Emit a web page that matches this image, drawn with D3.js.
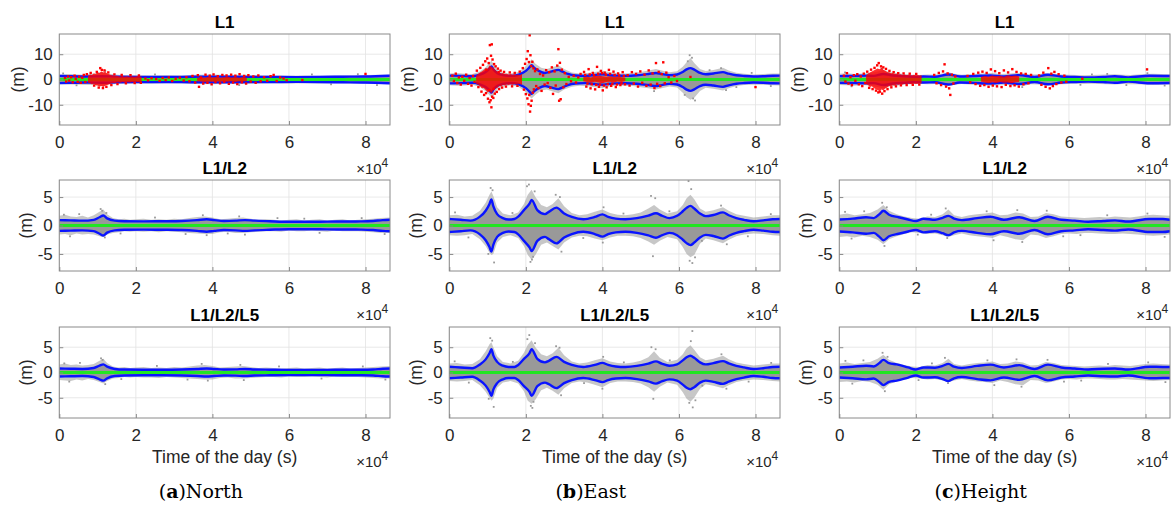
<!DOCTYPE html>
<html><head><meta charset="utf-8">
<script src="https://cdn.jsdelivr.net/npm/d3@7"></script>
<style>body{margin:0;background:#fff}svg{display:block}</style>
</head><body><svg id="chart" width="1174" height="505"></svg>
<script>
// ---------- categories / labels ----------
const rowTitles = ["L1", "L1/L2", "L1/L2/L5"];
const captions = [["a", "North"], ["b", "East"], ["c", "Height"]];
const xTicks = [0, 20000, 40000, 60000, 80000];
const xTickLabels = ["0", "2", "4", "6", "8"];
const xDomain = [0, 86400];
const yDomains = [[-18, 18], [-8, 8], [-9, 9]];
const yTicks = [[-10, 0, 10], [-5, 0, 5], [-5, 0, 5]];
const meanValue = 0;
const xLabel = "Time of the day (s)";
const yLabel = "(m)";

// ---------- North ----------
const envNorthL1 = [[0,1.45],[3000,1.3],[7000,1.2],[11000,1.3],[15000,1.15],[20000,1.05],[26000,1.0],[32000,1.05],[38000,1.15],[44000,1.1],[50000,1.05],[56000,1.0],[62000,0.95],[68000,1.0],[74000,1.1],[80000,1.2],[86400,1.5]];
const spreadNorthL1 = [[0,2.0,-1.9],[3000,2.2,-2.0],[6000,1.9,-2.1],[9000,2.4,-2.2],[11000,3.0,-2.6],[13000,2.3,-2.0],[16000,1.8,-1.7],[20000,1.7,-1.6],[24000,1.6,-1.7],[28000,1.7,-1.5],[32000,1.6,-1.6],[36000,1.9,-1.8],[40000,2.0,-1.9],[44000,1.8,-1.7],[48000,1.9,-1.8],[52000,1.7,-1.6],[56000,1.6,-1.5],[60000,1.5,-1.6],[64000,1.6,-1.5],[68000,1.5,-1.6],[72000,1.6,-1.5],[76000,1.7,-1.6],[80000,1.8,-1.7],[84000,1.9,-1.8],[86400,2.0,-1.9]];
const grayNorthL1 = [[1000,2.4],[4500,-2.3],[12000,3.4],[25000,2.0],[47000,-2.2],[66000,2.0],[71000,-1.9],[78000,2.1],[83000,-2.2]];
const redAreaNorth = [[7500,1.4,-1.2],[8000,2.0,-1.5],[8500,1.8,-1.9],[9000,2.4,-1.7],[9500,2.2,-2.3],[10000,2.9,-2.4],[10500,2.6,-2.8],[11000,3.2,-2.6],[11500,2.8,-3.0],[12000,3.1,-2.5],[12500,2.4,-2.2],[13000,2.1,-1.9],[13500,1.8,-1.6],[14000,1.6,-1.4],[14500,1.4,-1.5],[15000,1.5,-1.2],[15500,1.3,-1.1],[16000,1.2,-1.3],[16500,1.4,-1.0],[17000,1.1,-1.2],[17500,1.3,-1.0],[18000,1.2,-1.1],[18500,1.0,-1.2],[19000,1.3,-1.0],[19500,1.1,-1.1],[20000,1.2,-0.9],[20500,1.4,-1.1],[21000,1.1,-1.0],[21500,1.2,-1.1],null,
  [36000,0.6,-0.7],[37000,0.9,-0.8],[38000,0.7,-1.0],[39000,1.1,-0.8],[40000,0.8,-0.9],[41000,1.0,-0.7],[42000,0.7,-0.9],[43000,0.9,-0.8],[44000,1.1,-0.9],[45000,0.8,-0.7],[46000,1.0,-1.0],[47000,0.7,-0.7],[48000,1.0,-0.8],[49000,0.7,-0.6]];
const redPtsNorth = [[1500,0.6],[1800,-0.8],[2300,1.2],[2600,-0.4],[3100,0.9],[3500,-1.1],[4000,1.5],[4300,0.3],[4800,-0.9],[5200,1.1],[5600,-1.3],[6000,0.7],[6400,1.8],[6800,-1.0],[7200,2.1],
  [8200,2.6],[9100,-2.4],[9800,3.0],[10300,-3.2],[10700,4.5],[11100,3.8],[11400,-3.4],[11800,3.6],[12300,-2.9],[12800,2.8],[13600,-2.2],[14400,2.0],[15200,-1.8],[16300,1.8],[17400,-1.5],[18600,1.7],[19700,-1.4],[20800,1.6],[21300,-1.3],
  [22500,0.4],[23200,-0.3],[24100,0.5],[25300,0.2],[26200,-0.5],[27000,0.6],[27800,-0.2],[28600,0.8],[29500,-0.6],[30400,0.3],[31500,0.7],[32500,-0.4],
  [33200,0.9],[34000,-0.7],[34800,1.4],[35500,-1.2],[36200,1.7],[36500,-2.9],[37000,0.8],[37600,-1.6],[38200,1.9],[38700,-1.3],[39300,1.5],[39800,-1.9],[40300,2.0],[40800,-1.0],[41400,1.3],[42000,-1.5],[42600,1.8],[43100,-0.9],[43700,1.6],[44300,-1.7],[44900,1.9],[45400,-1.2],[46000,1.5],[46500,-1.8],[47100,2.1],[47700,-1.1],[48300,1.4],[48800,-1.6],[49400,1.7],[50000,-0.8],[50700,1.2],[51300,-1.3],[52000,1.6],[52600,-0.7],
  [53500,0.9],[54300,-0.5],[55200,1.3],[56000,1.8],[56800,-0.6],[57700,0.8],[58600,0.4],[59400,-0.3],[63500,-0.2],[80000,2.2]];

const envNorthL12 = [[0,0.95],[3000,0.9],[6000,0.85],[9000,1.0],[10500,1.45],[11500,1.75],[12500,1.25],[14500,0.85],[17000,0.75],[22000,0.72],[27000,0.75],[32000,0.8],[36000,0.95],[38500,1.1],[40500,0.95],[43000,0.8],[46000,0.85],[48500,0.95],[51000,0.85],[55000,0.75],[60000,0.65],[65000,0.65],[70000,0.68],[75000,0.7],[79000,0.72],[82000,0.8],[84500,0.95],[86400,1.0]];
const spreadNorthL12 = [[0,1.7,-1.6],[1500,1.9,-1.5],[3000,1.6,-1.7],[4500,1.5,-1.4],[6000,1.7,-1.6],[7500,1.4,-1.5],[9000,1.8,-1.6],[10500,2.4,-1.9],[11500,2.8,-2.0],[12500,2.0,-1.6],[14000,1.3,-1.3],[15500,1.1,-1.2],[17000,1.2,-1.0],[18500,1.0,-1.1],[20000,1.1,-1.0],[22000,1.2,-1.1],[24000,1.0,-1.0],[26000,1.1,-1.2],[28000,1.0,-1.0],[30000,1.2,-1.1],[32000,1.1,-1.2],[34000,1.3,-1.3],[36000,1.5,-1.4],[38000,1.6,-1.5],[40000,1.4,-1.5],[42000,1.1,-1.2],[44000,1.2,-1.1],[46000,1.3,-1.3],[48000,1.4,-1.3],[50000,1.2,-1.2],[52000,1.0,-1.1],[54000,1.1,-1.0],[56000,1.0,-1.0],[58000,0.9,-1.1],[60000,1.0,-0.9],[62000,1.1,-1.0],[64000,0.9,-1.0],[66000,1.0,-0.9],[68000,1.1,-1.0],[70000,0.9,-1.1],[72000,1.0,-0.9],[74000,1.1,-1.0],[76000,0.9,-1.0],[78000,1.0,-1.0],[80000,1.1,-1.1],[82000,1.2,-1.2],[84000,1.3,-1.3],[86400,1.4,-1.3]];
const grayNorthL12 = [[1200,1.9],[2800,-1.9],[5200,2.0],[10800,2.9],[11200,2.6],[11900,-2.1],[12300,2.2],[16000,-1.4],[25000,1.4],[33000,-1.5],[37500,1.8],[38500,-1.7],[44000,-1.4],[47000,1.6],[48500,-1.6],[57000,1.3],[64000,1.2],[68000,-1.3],[79000,1.3],[85000,-1.5]];

const envNorthL125 = [[0,0.8],[3000,0.75],[6000,0.7],[9000,0.9],[10500,1.35],[11500,1.6],[12500,1.15],[14500,0.7],[17000,0.58],[22000,0.55],[27000,0.55],[32000,0.6],[36000,0.7],[38500,0.8],[40500,0.7],[43000,0.6],[46000,0.62],[48500,0.7],[51000,0.6],[55000,0.55],[60000,0.5],[65000,0.5],[70000,0.52],[75000,0.55],[79000,0.55],[82000,0.6],[84500,0.75],[86400,0.8]];
const spreadNorthL125 = [[0,1.6,-1.5],[1500,1.8,-1.6],[3000,1.5,-1.7],[4500,1.6,-1.4],[6000,1.4,-1.6],[7500,1.5,-1.3],[9000,1.7,-1.5],[10500,2.3,-1.9],[11500,2.7,-2.2],[12500,1.9,-1.7],[14000,1.2,-1.2],[15500,1.0,-1.1],[17000,1.1,-0.9],[18500,0.9,-1.0],[20000,1.0,-0.9],[22000,1.1,-1.0],[24000,0.9,-1.0],[26000,1.0,-1.1],[28000,0.9,-0.9],[30000,1.1,-1.0],[32000,1.0,-1.1],[34000,1.2,-1.2],[36000,1.4,-1.3],[38000,1.5,-1.4],[40000,1.3,-1.4],[42000,1.0,-1.1],[44000,1.1,-1.0],[46000,1.2,-1.2],[48000,1.3,-1.2],[50000,1.1,-1.1],[52000,0.9,-1.0],[54000,1.0,-0.9],[56000,0.9,-0.9],[58000,0.8,-1.0],[60000,0.9,-0.8],[62000,1.0,-0.9],[64000,0.8,-0.9],[66000,0.9,-0.8],[68000,1.0,-0.9],[70000,0.8,-1.0],[72000,0.9,-0.8],[74000,1.0,-0.9],[76000,0.8,-0.9],[78000,0.9,-0.9],[80000,1.0,-1.0],[82000,1.1,-1.1],[84000,1.2,-1.2],[86400,1.3,-1.2]];
const grayNorthL125 = [[1300,1.8],[2600,-1.8],[5400,1.9],[10900,2.8],[11300,2.5],[12000,-2.3],[16200,-1.3],[25500,1.3],[33500,-1.4],[37200,1.7],[38800,-1.6],[47300,1.5],[48200,-1.5],[57400,1.2],[68500,-1.2],[79300,1.2],[85200,-1.4]];

// ---------- East ----------
const envEastL1 = [[0,1.55],[3000,1.45],[6000,1.3],[8000,1.9],[9500,3.0],[10500,4.3],[11000,5.2],[11500,4.0],[12500,2.6],[14000,1.75],[15500,1.45],[17000,1.5],[18500,2.1],[20000,3.4],[21000,4.9],[21500,5.7],[22200,4.6],[23500,3.3],[25000,2.6],[26500,3.1],[28500,3.8],[29500,3.2],[31000,2.2],[33000,1.6],[35500,1.45],[38000,1.8],[40000,2.1],[41500,1.8],[43500,1.55],[46000,1.5],[49000,1.7],[52000,2.2],[54000,2.6],[55500,2.2],[57500,1.75],[59500,2.0],[61000,3.0],[62000,4.0],[63000,4.5],[64000,3.9],[65500,2.6],[67000,2.1],[69000,2.4],[71500,2.9],[73000,2.3],[75000,1.7],[77000,1.4],[79500,1.2],[82000,1.3],[84500,1.5],[86400,1.55]];
const spreadEastL1 = [[0,2.4,-2.3],[2000,2.6,-2.5],[4000,2.3,-2.4],[6000,2.2,-2.1],[8000,3.2,-3.0],[9500,4.8,-4.6],[10500,6.5,-6.2],[11000,7.5,-7.2],[11500,6.2,-6.5],[12500,4.0,-3.8],[14000,2.7,-2.8],[16000,2.4,-2.3],[18000,3.0,-2.9],[19500,4.5,-4.4],[21000,7.0,-6.8],[21500,8.0,-7.5],[22500,6.2,-6.0],[24000,4.6,-4.4],[25500,4.2,-4.0],[27000,4.8,-4.7],[28500,5.6,-5.4],[30000,4.2,-4.0],[32000,2.8,-2.9],[34000,2.4,-2.5],[36000,2.6,-2.7],[38000,3.0,-3.1],[40000,3.5,-3.4],[42000,2.9,-2.8],[44000,2.5,-2.4],[46000,2.4,-2.5],[48000,2.7,-2.6],[50000,3.0,-3.1],[52000,3.6,-3.5],[54000,4.2,-4.0],[55500,3.6,-3.5],[57500,2.9,-2.8],[59500,3.3,-3.2],[61000,5.0,-5.2],[62000,6.8,-7.0],[63000,8.5,-8.0],[64000,6.5,-7.2],[65500,4.2,-4.5],[67000,3.4,-3.3],[69000,3.8,-3.7],[71500,4.6,-4.4],[73000,3.6,-3.5],[75000,2.7,-2.6],[77000,2.3,-2.2],[79500,2.0,-2.1],[82000,2.2,-2.1],[84500,2.4,-2.3],[86400,2.4,-2.4]];
const grayEastL1 = [[62800,9.6],[63400,8.6],[64200,-8.3],[63700,-7.5],[62300,7.2],[61500,-6.1],[71000,4.5],[72300,-4.2],[53500,-4.6],[79000,2.6],[84000,-2.6],[68000,3.7],[75000,-3.0]];
const redAreaEast = [[7000,1.5,-1.8],[7500,2.2,-2.0],[8000,2.8,-2.6],[8500,3.2,-3.5],[9000,3.8,-3.4],[9500,4.5,-4.2],[10000,4.2,-5.0],[10500,5.5,-4.6],[11000,5.0,-5.5],[11500,4.6,-4.4],[12000,3.8,-3.6],[12500,3.2,-3.4],[13000,2.8,-2.6],[13500,2.4,-2.7],[14000,2.6,-2.2],[14500,2.2,-2.3],[15000,2.3,-2.0],[15500,2.0,-2.2],[16000,2.2,-1.9],[16500,1.9,-2.1],[17000,2.1,-1.8],[17500,1.8,-2.0],[18000,2.0,-1.7],[18500,1.7,-1.9],[19000,2.3,-2.1],null,
  [35000,0.9,-0.7],[36000,1.2,-1.0],[37000,0.8,-1.3],[38000,1.4,-0.9],[39000,1.6,-1.2],[40000,1.3,-1.5],[41000,1.1,-1.0],[42000,1.3,-0.9],[43000,1.0,-1.2],[44000,1.2,-0.8],[45000,0.9,-1.0],[46000,0.7,-0.6]];
const redPtsEast = [[800,1.5],[1200,-0.6],[1700,2.3],[2100,-1.4],[2500,0.8],[3000,-2.0],[3400,1.1],[3900,-0.5],[4400,1.9],[4900,-1.7],[5300,0.6],[5800,-2.4],[6200,1.4],[6600,-0.9],
  [7200,3.5],[7600,-3.0],[8100,4.6],[8400,-4.8],[8800,5.8],[9100,-6.1],[9400,7.2],[9600,-5.4],[9900,8.3],[10100,-7.6],[10300,6.5],[10500,-9.0],[10600,13.6],[10800,-8.2],[10900,9.4],[11000,-11.0],[11100,13.9],[11200,-6.8],[11300,7.9],[11500,-7.3],[11700,6.1],[11900,-5.6],[12100,5.2],[12400,-4.9],[12700,4.3],[13000,-3.8],[13400,3.5],[13800,-3.2],[14300,3.0],[14800,-2.8],[9700,3.9],[10400,-4.2],[11600,-3.7],[12900,2.9],
  [15800,2.8],[16400,-2.7],[17100,2.6],[17800,-2.5],[18400,3.1],
  [19200,4.5],[19500,-4.0],[19800,6.2],[20000,-5.8],[20200,8.1],[20400,-7.5],[20500,11.2],[20700,-9.8],[20800,6.9],[20900,-6.1],[21000,17.5],[21100,-12.7],[21200,9.6],[21300,-10.4],[21400,5.3],[21500,-8.4],[21700,7.0],[21800,-5.2],[22000,4.4],[22100,-3.9],
  [22400,3.3],[22700,-2.6],[23000,4.0],[23300,-3.4],[23700,2.2],[24100,-4.5],[24500,1.6],[24900,-2.0],[25300,3.7],[25700,-1.4],[26100,2.9],[26400,-3.3],[26800,4.8],[27100,-5.7],[27500,3.2],[27800,-2.4],[28200,5.5],[28500,12.0],[28700,-8.4],[28900,6.6],[29100,-7.8],[29400,3.9],[29800,-3.1],[30200,2.5],[30600,-1.8],
  [31200,1.0],[31800,-0.7],[32500,1.5],[33100,-1.2],[33700,0.8],[34300,2.2],
  [35200,3.0],[35500,1.8],[35800,-2.8],[36100,-1.6],[36400,4.1],[36700,2.0],[36900,-3.5],[37200,-1.9],[37500,2.6],[37800,1.7],[38100,-3.9],[38400,-2.1],[38600,5.0],[38900,2.3],[39100,-2.9],[39400,-2.0],[39600,3.4],[39900,2.5],[40100,-4.3],[40400,-2.4],[40600,2.7],[40900,1.9],[41100,-3.1],[41400,-1.8],[41700,3.8],[42000,2.2],[42300,-2.5],[42600,-1.7],[42900,3.1],[43200,1.8],[43500,-3.0],[43800,-2.0],[44100,2.4],[44400,1.6],[44700,-2.2],[45000,-1.5],[45300,2.9],[45600,1.4],[45900,-1.9],
  [46600,1.7],[47100,-2.4],[47700,2.9],[48200,-1.6],[48800,2.2],[49300,-2.8],[49900,3.2],[50400,-1.3],[51000,1.9],[51500,-2.5],[52100,3.6],[52600,-2.0],[53100,2.4],[53600,-3.4],[54000,6.5],[54300,-1.7],[54700,3.0],[55100,-2.6],[55500,2.1],[55900,6.8],[56300,-1.5],[56700,2.7],
  [57300,0.9],[58000,-1.2],[58800,1.4],[59500,-0.6],[63000,1.0],[80000,-3.0]];

const envEastL12 = [[0,1.15],[3000,1.0],[5500,0.85],[8000,1.55],[9500,2.6],[10500,3.8],[11000,4.6],[11500,3.4],[12500,2.0],[14000,1.3],[15500,1.05],[17000,1.15],[18000,1.55],[19500,2.7],[21000,3.9],[21500,4.5],[23000,2.7],[25000,2.0],[26000,2.4],[28000,3.15],[30000,2.1],[32000,1.5],[35000,1.1],[38000,1.5],[40000,1.95],[41500,1.5],[43500,1.2],[46000,1.1],[49000,1.3],[52000,1.75],[54000,2.15],[55500,1.75],[57500,1.3],[59500,1.7],[61000,2.5],[62000,3.1],[63000,3.45],[64000,3.0],[65500,2.1],[67000,1.65],[69000,1.85],[71500,2.3],[73000,1.8],[75000,1.3],[77000,1.0],[79500,0.75],[82000,0.9],[84500,1.1],[86400,1.15]];
const spreadEastL12 = [[0,1.8,-1.7],[2000,1.9,-1.8],[4000,1.6,-1.7],[6000,1.7,-1.5],[8000,2.6,-2.4],[9500,4.0,-3.6],[10500,5.4,-4.8],[11000,6.0,-5.2],[11500,5.2,-5.0],[12500,3.2,-3.0],[14000,2.1,-2.0],[16000,1.8,-1.7],[18000,2.3,-2.2],[19500,3.8,-3.6],[20500,5.4,-5.2],[21500,6.3,-6.0],[22500,5.0,-5.2],[24000,3.6,-3.4],[25500,3.2,-3.0],[27000,3.8,-3.6],[28500,4.8,-4.2],[30000,3.4,-3.0],[32000,2.2,-2.1],[34000,1.8,-1.8],[36000,2.0,-1.9],[38000,2.4,-2.3],[40000,2.8,-2.6],[42000,2.2,-2.1],[44000,1.9,-1.8],[46000,1.8,-1.8],[48000,2.0,-1.9],[50000,2.3,-2.2],[52000,3.0,-2.8],[53500,3.6,-3.4],[55000,2.8,-2.7],[57000,2.1,-2.0],[59500,2.5,-2.4],[61000,3.6,-3.8],[62000,4.8,-5.0],[63000,5.4,-5.6],[64000,4.6,-5.2],[65500,3.0,-3.2],[67000,2.4,-2.3],[69000,2.7,-2.6],[71500,3.2,-3.1],[73000,2.6,-2.5],[75000,2.0,-1.9],[77000,1.7,-1.6],[79500,1.4,-1.4],[82000,1.6,-1.5],[84500,1.8,-1.7],[86400,1.8,-1.8]];
const grayEastL12 = [[10800,6.6],[11300,6.2],[11700,-6.5],[10200,-5.0],[20300,6.9],[20800,7.2],[21200,-6.4],[21600,-6.0],[21900,-5.5],[22300,6.0],[27800,5.4],[28900,5.0],[29300,-4.6],[40300,3.2],[40100,-3.0],[52700,5.2],[53200,-5.4],[53800,4.8],[62500,7.8],[63200,6.4],[63500,-6.6],[62800,-6.2],[64200,-5.6],[71000,3.5],[72500,-3.3],[1500,2.3],[5000,-2.1],[16500,2.2],[35000,-2.2],[45500,2.1],[78000,-1.9],[84000,2.0],[57500,2.5],[66000,-2.7]];

const envEastL125 = [[0,1.15],[3000,1.0],[6000,0.85],[8000,1.6],[9500,2.6],[10500,3.8],[11000,4.6],[11500,3.4],[12500,2.1],[14000,1.35],[15500,1.1],[17000,1.1],[18000,1.5],[19500,2.7],[21000,3.9],[21500,4.6],[23000,2.7],[25000,2.0],[26000,2.3],[28000,3.1],[30000,2.1],[32000,1.5],[35000,1.1],[38000,1.5],[40000,1.9],[41500,1.5],[43500,1.2],[46000,1.1],[49000,1.3],[52000,1.75],[54000,2.2],[55500,1.75],[57500,1.35],[59500,1.6],[61000,2.4],[62000,3.0],[63000,3.3],[64000,2.9],[65500,2.0],[67000,1.6],[69000,1.85],[71500,2.25],[73000,1.8],[75000,1.3],[77000,1.0],[79500,0.7],[82000,0.85],[84500,1.1],[86400,1.15]];
const spreadEastL125 = [[0,1.8,-1.7],[2000,1.9,-1.8],[4000,1.6,-1.7],[6000,1.7,-1.5],[8000,2.6,-2.5],[9500,4.2,-3.8],[10500,5.6,-5.0],[11000,6.0,-5.6],[11500,5.0,-5.2],[12500,3.2,-3.0],[14000,2.1,-2.0],[16000,1.8,-1.7],[18000,2.3,-2.2],[19500,3.9,-3.7],[20500,5.5,-5.6],[21500,6.4,-6.2],[22500,5.0,-5.4],[24000,3.6,-3.5],[25500,3.2,-3.0],[27000,3.8,-3.6],[28500,4.9,-4.4],[30000,3.4,-3.1],[32000,2.2,-2.1],[34000,1.8,-1.8],[36000,2.0,-2.0],[38000,2.4,-2.4],[40000,2.8,-2.9],[42000,2.2,-2.1],[44000,1.9,-1.8],[46000,1.8,-1.8],[48000,2.0,-1.9],[50000,2.3,-2.2],[52000,3.0,-2.9],[53500,4.2,-3.8],[55000,2.9,-2.8],[57000,2.1,-2.0],[59500,2.5,-2.4],[61000,3.6,-3.9],[62000,4.8,-5.2],[63000,5.4,-5.8],[64000,4.5,-5.0],[65500,3.0,-3.2],[67000,2.4,-2.3],[69000,2.7,-2.6],[71500,3.3,-3.1],[73000,2.6,-2.5],[75000,2.0,-1.9],[77000,1.7,-1.6],[79500,1.4,-1.4],[82000,1.6,-1.5],[84500,1.8,-1.7],[86400,1.8,-1.8]];
const grayEastL125 = [[10700,6.8],[11200,6.3],[11600,-6.8],[10300,-5.2],[20400,6.6],[20900,7.4],[21300,-6.6],[21700,-7.0],[22000,-5.8],[22400,5.8],[27900,5.2],[28800,4.9],[29200,-4.5],[40200,3.1],[40000,-3.2],[52800,5.0],[53300,-5.2],[53900,4.6],[63500,8.2],[63100,6.2],[63600,-6.9],[62700,-6.0],[64300,-5.5],[71100,3.6],[72400,-3.2],[1400,2.2],[5100,-2.0],[16600,2.1],[35200,-2.1],[45600,2.0],[78200,-1.8],[84100,1.9],[57600,2.4],[66100,-2.6]];

// ---------- Height ----------
const envHeightL1 = [[0,1.35],[4000,1.45],[7000,1.55],[9000,1.45],[11500,2.2],[14000,1.6],[17000,1.3],[20000,1.0],[22000,1.2],[25000,1.1],[28500,2.0],[31500,1.2],[35000,1.35],[39500,1.6],[43000,1.2],[47000,1.75],[51000,1.0],[54500,1.9],[58000,1.2],[61500,1.0],[65000,0.8],[69000,1.0],[72000,1.3],[75500,0.85],[81000,1.5],[86400,1.4]];
const spreadHeightL1 = [[0,2.3,-2.2],[2000,2.5,-2.3],[4000,2.2,-2.5],[6000,2.4,-2.2],[8000,2.6,-2.4],[10000,3.2,-3.0],[11500,3.8,-3.6],[13000,3.0,-2.8],[15000,2.6,-2.5],[17000,2.2,-2.1],[19000,1.9,-1.8],[21000,1.8,-1.7],[23000,2.0,-1.9],[25000,1.9,-1.8],[27000,2.4,-2.2],[28500,2.9,-2.6],[30000,2.3,-2.1],[32000,1.9,-1.8],[34000,2.1,-2.0],[36000,2.3,-2.2],[38000,2.5,-2.4],[40000,2.6,-2.5],[42000,2.2,-2.1],[44000,2.3,-2.2],[46000,2.6,-2.5],[48000,2.5,-2.6],[50000,2.0,-1.9],[52000,2.1,-2.0],[54000,2.6,-2.5],[56000,2.3,-2.2],[58000,2.0,-1.9],[60000,1.9,-1.8],[62000,1.8,-1.7],[64000,1.7,-1.8],[66000,1.8,-1.7],[68000,1.9,-1.8],[70000,2.0,-1.9],[72000,2.1,-2.0],[74000,1.9,-1.8],[76000,1.8,-1.9],[78000,2.0,-1.9],[80000,2.2,-2.1],[82000,2.3,-2.2],[84000,2.2,-2.1],[86400,2.1,-2.0]];
const grayHeightL1 = [[1500,2.8],[3200,-2.7],[11200,4.3],[47800,-3.0],[63000,-2.1],[66000,2.0],[70000,2.2],[75000,-2.2],[80500,2.5],[85000,-2.4]];
const redAreaHeight = [[7000,1.6,-1.8],[7500,2.4,-2.2],[8000,2.8,-3.0],[8500,3.2,-2.7],[9000,3.6,-3.4],[9500,4.0,-3.8],[10000,4.4,-4.2],[10500,4.1,-4.5],[11000,4.6,-4.0],[11500,3.9,-4.3],[12000,3.5,-3.6],[12500,3.0,-3.2],[13000,2.8,-2.6],[13500,2.5,-2.7],[14000,2.6,-2.3],[14500,2.2,-2.4],[15000,2.3,-2.0],[15500,2.0,-2.1],[16000,2.1,-1.8],[16500,1.8,-2.0],[17000,2.0,-1.7],[17500,1.7,-1.9],[18000,1.9,-1.6],[18500,1.8,-1.8],[19000,1.6,-1.9],[19500,1.9,-1.6],[20000,1.7,-1.8],[20500,1.8,-1.7],[21000,1.6,-1.5],[21500,1.7,-1.6],null,
  [37000,1.0,-0.8],[38000,1.4,-1.2],[39000,1.1,-1.5],[40000,1.6,-1.1],[41000,1.3,-1.4],[42000,1.5,-1.0],[43000,1.1,-1.3],[44000,1.7,-1.2],[45000,1.4,-1.5],[46000,1.6,-1.1],[47000,1.2,-1.0]];
const redPtsHeight = [[1200,1.5],[1600,-0.8],[2000,2.5],[2400,-1.6],[2900,0.9],[3300,-2.2],[3800,1.7],[4200,-0.5],[4700,2.1],[5100,-1.9],[5600,1.2],[6000,-2.6],[6400,2.3],[6800,-1.4],
  [7300,3.1],[7800,-3.3],[8300,3.9],[8700,-3.8],[9200,4.6],[9600,-4.4],[9900,5.6],[10200,-5.1],[10300,6.5],[10600,-4.8],[10900,5.2],[11200,-5.6],[11500,4.8],[11800,-4.6],[12200,4.2],[12600,-3.8],[13100,3.4],[13600,-3.1],[14200,2.9],[14800,-2.7],[15400,2.5],[16100,-2.3],[16800,2.4],[17600,-2.2],[18400,2.3],[19200,-2.1],[20100,2.2],[20900,-2.0],
  [24800,1.8],[25400,-1.5],[26000,2.6],[26600,-2.2],[27100,3.2],[27500,6.0],[27900,-2.8],[28300,2.4],[28700,-3.5],[29000,-6.1],[29400,1.9],[29800,-1.6],[30300,1.2],
  [33500,1.4],[34200,-1.1],[35000,2.2],[35600,-1.8],[36300,2.7],[36800,-2.5],[37400,3.1],[37900,-2.2],[38500,2.6],[39000,-2.9],[39600,4.0],[40100,-2.4],[40700,3.3],[41200,-2.7],[41800,2.5],[42400,-3.0],[43000,3.6],[43500,-2.1],[44100,2.8],[44700,-2.6],[45200,4.1],[45800,-2.3],[46300,3.0],[46900,-2.8],[47500,2.4],[48100,-1.9],[48700,2.2],[49400,-1.5],[50100,1.8],
  [52200,1.6],[52800,-2.1],[53300,2.7],[53900,-2.9],[54600,4.5],[55000,-3.5],[55400,2.3],[55800,-2.6],[56200,3.0],[56700,-1.8],[57300,2.1],[58000,-1.2],[58800,1.5],[59300,-0.9],[63500,0.3],[80400,4.0]];

const envHeightL12 = [[0,1.05],[3500,1.2],[7000,1.45],[9000,1.3],[10500,2.0],[11500,2.6],[13000,1.9],[15500,1.45],[18000,1.05],[20000,0.8],[22000,1.2],[25000,1.0],[27000,1.35],[28500,1.7],[30000,1.2],[32000,0.95],[36000,1.3],[39500,1.55],[43000,1.0],[47000,1.45],[51000,0.8],[54500,1.55],[58000,1.0],[61500,0.85],[65000,0.65],[69000,0.8],[72000,0.9],[75500,0.7],[81000,1.15],[84500,1.15],[86400,1.0]];
const spreadHeightL12 = [[0,1.9,-2.0],[2000,2.1,-1.9],[4000,1.8,-2.1],[6000,2.0,-1.8],[8000,2.2,-2.0],[10000,2.8,-2.5],[11500,3.6,-3.3],[13000,2.6,-2.4],[15000,2.0,-1.9],[17000,1.6,-1.5],[19000,1.3,-1.2],[21000,1.2,-1.3],[23000,1.6,-1.5],[25000,1.5,-1.4],[27000,2.0,-1.7],[28500,2.8,-2.0],[30000,1.8,-1.7],[32000,1.5,-1.4],[34000,1.8,-1.7],[36000,2.0,-1.9],[38000,2.1,-2.0],[40000,2.3,-2.2],[42000,1.8,-1.7],[44000,1.9,-2.0],[46000,2.3,-2.4],[48000,2.1,-2.6],[50000,1.5,-1.6],[52000,1.6,-1.7],[54000,2.2,-2.2],[56000,2.0,-1.9],[58000,1.6,-1.5],[60000,1.5,-1.4],[62000,1.4,-1.5],[64000,1.3,-1.3],[66000,1.4,-1.3],[68000,1.5,-1.4],[70000,1.4,-1.5],[72000,1.6,-1.5],[74000,1.5,-1.4],[76000,1.4,-1.5],[78000,1.6,-1.6],[80000,1.8,-1.7],[82000,1.9,-1.8],[84000,1.8,-1.7],[86400,1.7,-1.6]];
const grayHeightL12 = [[1500,2.4],[3200,-2.3],[6500,2.5],[11200,4.0],[11800,-3.6],[12400,3.2],[20500,-1.6],[24000,1.9],[27800,3.0],[28200,-2.2],[38500,2.5],[40300,-2.6],[46500,2.7],[47800,-2.9],[54200,2.6],[58500,-1.9],[63000,-1.7],[70000,1.8],[80500,2.1],[85000,-2.0]];

const envHeightL125 = [[0,1.0],[3500,1.15],[7000,1.35],[9000,1.2],[10500,1.9],[11500,2.5],[13000,1.85],[15000,1.6],[18000,1.0],[20000,0.6],[22000,1.0],[25000,0.95],[27000,1.3],[28500,1.7],[30000,1.15],[32000,0.9],[36000,1.3],[39500,1.55],[43000,1.0],[47000,1.45],[51000,0.7],[54500,1.55],[58000,1.0],[61500,0.8],[65000,0.6],[69000,0.75],[72000,0.8],[75500,0.6],[81000,1.15],[84500,1.1],[86400,1.1]];
const spreadHeightL125 = [[0,1.8,-1.9],[2000,2.0,-1.8],[4000,1.7,-2.0],[6000,1.9,-1.7],[8000,2.1,-1.9],[10000,2.7,-2.4],[11500,3.5,-3.4],[13000,2.5,-2.3],[15000,1.9,-1.8],[17000,1.5,-1.4],[19000,1.2,-1.1],[21000,1.1,-1.2],[23000,1.5,-1.4],[25000,1.4,-1.3],[27000,1.9,-1.6],[28500,2.7,-1.9],[30000,1.7,-1.6],[32000,1.4,-1.3],[34000,1.7,-1.6],[36000,1.9,-1.8],[38000,2.0,-1.9],[40000,2.2,-2.1],[42000,1.7,-1.6],[44000,1.8,-1.9],[46000,2.2,-2.3],[48000,2.0,-2.5],[50000,1.4,-1.5],[52000,1.5,-1.6],[54000,2.1,-2.1],[56000,1.9,-1.8],[58000,1.5,-1.4],[60000,1.4,-1.3],[62000,1.3,-1.4],[64000,1.2,-1.2],[66000,1.3,-1.2],[68000,1.4,-1.3],[70000,1.3,-1.4],[72000,1.5,-1.4],[74000,1.4,-1.3],[76000,1.3,-1.4],[78000,1.5,-1.5],[80000,1.7,-1.6],[82000,1.8,-1.7],[84000,1.7,-1.6],[86400,1.6,-1.5]];
const grayHeightL125 = [[1600,2.3],[3400,-2.2],[6300,2.4],[11300,3.9],[11900,-3.7],[12600,3.1],[20700,-1.5],[24200,1.8],[27600,2.9],[28400,-2.1],[38700,2.4],[40500,-2.5],[46300,2.6],[47600,-2.8],[54400,2.5],[58700,-1.8],[63200,-1.6],[70200,1.7],[80700,2.0],[85200,-1.9]];

// ---------- panel table (built from the arrays above) ----------
const panels = [
  {col:0,row:0,env:envNorthL1,spread:spreadNorthL1,gray:grayNorthL1,redArea:redAreaNorth,red:redPtsNorth},
  {col:0,row:1,env:envNorthL12,spread:spreadNorthL12,gray:grayNorthL12},
  {col:0,row:2,env:envNorthL125,spread:spreadNorthL125,gray:grayNorthL125},
  {col:1,row:0,env:envEastL1,spread:spreadEastL1,gray:grayEastL1,redArea:redAreaEast,red:redPtsEast},
  {col:1,row:1,env:envEastL12,spread:spreadEastL12,gray:grayEastL12},
  {col:1,row:2,env:envEastL125,spread:spreadEastL125,gray:grayEastL125},
  {col:2,row:0,env:envHeightL1,spread:spreadHeightL1,gray:grayHeightL1,redArea:redAreaHeight,red:redPtsHeight},
  {col:2,row:1,env:envHeightL12,spread:spreadHeightL12,gray:grayHeightL12},
  {col:2,row:2,env:envHeightL125,spread:spreadHeightL125,gray:grayHeightL125}
];

// ---------- layout ----------
const colLeft = [59.3, 449.3, 839.3], axW = 330.7;
const rowTop = [34, 180, 327], axH = 91;
const FONT = "'Liberation Sans', Arial, Helvetica, sans-serif";
const TXT = "#262626";

const svg = d3.select("#chart");
svg.append("rect").attr("width",1174).attr("height",505).attr("fill","#fff");

panels.forEach((p, i) => {
  const L = colLeft[p.col], T = rowTop[p.row];
  const x = d3.scaleLinear().domain(xDomain).range([L, L + axW]);
  const y = d3.scaleLinear().domain(yDomains[p.row]).range([T + axH, T]);
  const g = svg.append("g");
  const cid = "clip" + i;
  svg.append("clipPath").attr("id", cid).append("rect").attr("x", L).attr("y", T).attr("width", axW).attr("height", axH);

  // grid
  const grid = g.append("g").attr("stroke", "#e3e3e3").attr("stroke-width", 0.8);
  grid.selectAll("line.gx").data(xTicks).join("line")
    .attr("x1", d => x(d)).attr("x2", d => x(d)).attr("y1", T).attr("y2", T + axH);
  grid.selectAll("line.gy").data(yTicks[p.row]).join("line")
    .attr("x1", L).attr("x2", L + axW).attr("y1", d => y(d)).attr("y2", d => y(d));

  const data = g.append("g").attr("clip-path", `url(#${cid})`);

  // outer scatter cloud
  data.append("path").datum(p.spread)
    .attr("d", d3.area().x(d => x(d[0])).y0(d => y(d[2])).y1(d => y(d[1])))
    .attr("fill", "#a4a4a4").attr("fill-opacity", 0.62);
  // dense core cloud
  data.append("path").datum(p.env)
    .attr("d", d3.area().curve(d3.curveMonotoneX).x(d => x(d[0])).y0(d => y(-d[1])).y1(d => y(d[1])))
    .attr("fill", "#999999");
  // scattered gray residual points
  data.selectAll("rect.gp").data(p.gray).join("rect")
    .attr("x", d => x(d[0]) - 0.9).attr("y", d => y(d[1]) - 0.9)
    .attr("width", 1.8).attr("height", 1.8).attr("fill", "#999999");

  // blue envelope lines
  const lineUp = d3.line().curve(d3.curveMonotoneX).x(d => x(d[0])).y(d => y(d[1]));
  const lineDn = d3.line().curve(d3.curveMonotoneX).x(d => x(d[0])).y(d => y(-d[1]));
  data.append("path").datum(p.env).attr("d", lineUp).attr("fill", "none").attr("stroke", "#0a14ff").attr("stroke-width", 2.4);
  data.append("path").datum(p.env).attr("d", lineDn).attr("fill", "none").attr("stroke", "#0a14ff").attr("stroke-width", 2.4);

  // green mean line
  data.append("line").attr("x1", x(xDomain[0])).attr("x2", x(xDomain[1]))
    .attr("y1", y(meanValue)).attr("y2", y(meanValue))
    .attr("stroke", "#22e622").attr("stroke-width", 3);

  // red points (L1 only)
  if (p.redArea) {
    data.append("path").datum(p.redArea)
      .attr("d", d3.area().defined(d => d !== null).x(d => x(d[0])).y0(d => y(d[2])).y1(d => y(d[1])))
      .attr("fill", "#ff0000").attr("fill-opacity", 0.82);
  }
  if (p.red) {
    data.selectAll("rect.rp").data(p.red).join("rect")
      .attr("x", d => x(d[0]) - 1.2).attr("y", d => y(d[1]) - 1.2)
      .attr("width", 2.4).attr("height", 2.4).attr("fill", "#ff0000");
  }

  // box
  g.append("rect").attr("x", L).attr("y", T).attr("width", axW).attr("height", axH)
    .attr("fill", "none").attr("stroke", "#8a8a8a").attr("stroke-width", 1);

  // axes (inward ticks)
  const ax = g.append("g").attr("transform", `translate(0,${T + axH})`)
    .call(d3.axisBottom(x).tickValues(xTicks).tickFormat((d, k) => xTickLabels[k]).tickSizeInner(-4).tickSizeOuter(0).tickPadding(11));
  const ay = g.append("g").attr("transform", `translate(${L},0)`)
    .call(d3.axisLeft(y).tickValues(yTicks[p.row]).tickFormat(d => String(d)).tickSizeInner(-4).tickSizeOuter(0).tickPadding(6.5));
  [ax, ay].forEach(a => {
    a.select(".domain").remove();
    a.selectAll("line").attr("stroke", "#8a8a8a");
    a.selectAll("text").attr("fill", TXT).style("font-family", FONT).style("font-size", "17px");
  });

  // title
  g.append("text").attr("x", L + axW / 2).attr("y", T - 6).attr("text-anchor", "middle")
    .style("font-family", FONT).style("font-size", "17px").style("font-weight", "bold").attr("fill", "#000")
    .text(rowTitles[p.row]);

  // x10^4 exponent
  const ex = g.append("text").attr("x", L + axW - 1.7).attr("y", T + axH + 48.5).attr("text-anchor", "end")
    .style("font-family", FONT).style("font-size", "15px").attr("fill", TXT);
  ex.append("tspan").text("\u00d710");
  ex.append("tspan").attr("dy", -7).style("font-size", "12px").text("4");

  // y label
  const ylx = L - (p.row === 0 ? 41 : 33);
  g.append("text").attr("transform", `translate(${ylx},${T + axH / 2}) rotate(-90)`)
    .attr("text-anchor", "middle").attr("dominant-baseline", "central")
    .style("font-family", FONT).style("font-size", "17.5px").attr("fill", TXT).text(yLabel);

  // x label + caption on bottom row
  if (p.row === 2) {
    g.append("text").attr("x", L + axW / 2).attr("y", T + axH + 44.5).attr("text-anchor", "middle")
      .style("font-family", FONT).style("font-size", "17.5px").attr("fill", TXT).text(xLabel);
    const cap = g.append("text").attr("x", L + 141.5).attr("y", 498).attr("text-anchor", "middle")
      .style("font-family", "'DejaVu Serif', 'Liberation Serif', serif").style("font-size", "19px").attr("fill", "#000");
    cap.append("tspan").text("(");
    cap.append("tspan").style("font-weight", "bold").text(captions[p.col][0]);
    cap.append("tspan").text(")");
    cap.append("tspan").text(captions[p.col][1]);
  }
});
</script>
</body></html>
